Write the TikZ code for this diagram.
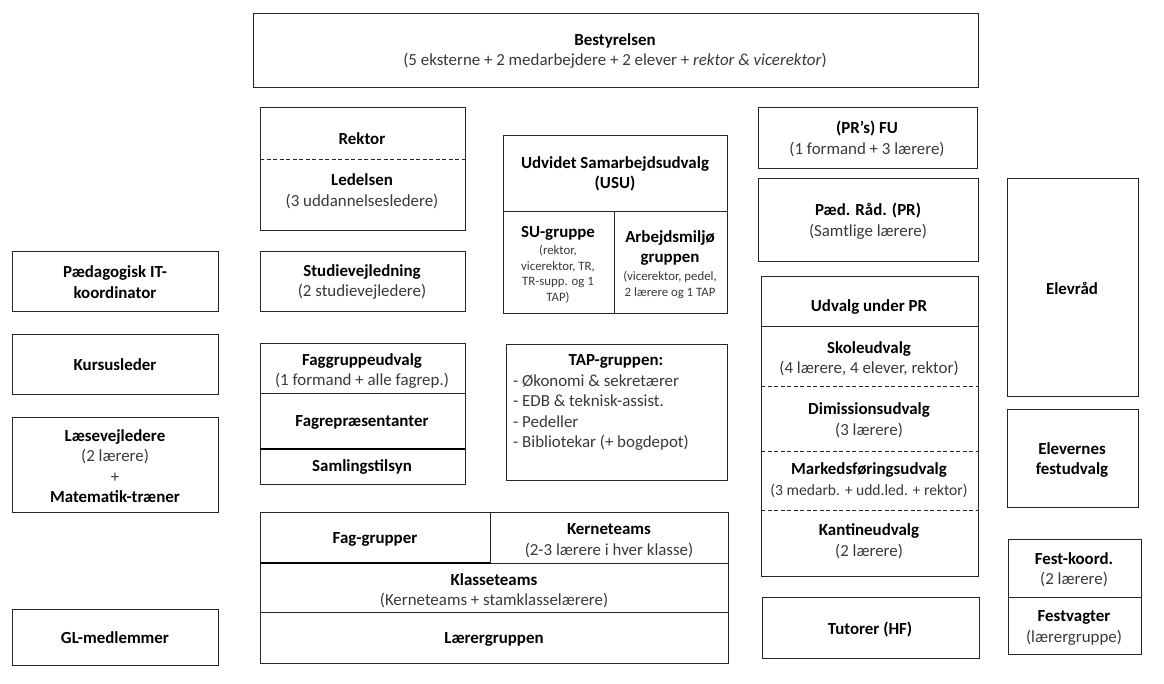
\documentclass[tikz,border=0pt]{standalone}
\usepackage{fontspec}
\setmainfont{Carlito}
\begin{document}
\begin{tikzpicture}[x=1pt,y=-1pt]
\tikzset{
 box/.style={draw=black!85, line width=0.9pt, inner sep=0pt},
 sep/.style={draw=black!85, line width=0.9pt},
 thick sep/.style={draw=black, line width=1.8pt},
 dsep/.style={draw=black!85, line width=0.9pt, dash pattern=on 4pt off 2.5pt},
 txt/.style={align=center, inner sep=0pt, text=black!78, font=\fontsize{16.9}{20.5}\selectfont},
 small/.style={align=center, inner sep=0pt, text=black!78, font=\fontsize{12.8}{15.5}\selectfont},
 mid/.style={align=center, inner sep=0pt, text=black!78, font=\fontsize{15.6}{18}\selectfont},
}
\newcommand\hdr[1]{{\color{black}\bfseries #1}}
\newcommand\bx[5]{\node[box, minimum width={(#4-#2)*1pt}, minimum height={(#5-#3)*1pt}] (#1) at ({(#2+#4)/2},{(#3+#5)/2}) {};}
\useasboundingbox (0,0) rectangle (1164,683);
% boxes
\bx{best}{253}{13}{978}{87}
\bx{rek}{260}{107}{465}{230}
\bx{stv}{260}{251}{465}{311}
\bx{fag}{260}{343}{465}{484}
\bx{usu}{503}{135}{727}{313}
\bx{tap}{506}{344}{727}{480}
\bx{lg}{260}{512}{728}{663}
\bx{fu}{758}{107}{977}{168}
\bx{pr}{758}{178}{978}{261}
\bx{upr}{761}{276}{978}{576}
\bx{tut}{762}{597}{979}{658}
\bx{elr}{1007}{178}{1138}{396}
\bx{efu}{1007}{409}{1138}{507}
\bx{fk}{1008}{539}{1141}{654}
\bx{pit}{12}{251}{218}{311}
\bx{kl}{12}{334}{218}{394}
\bx{lv}{12}{417}{218}{512}
\bx{gl}{12}{609}{218}{665}
% dividers
\draw[dsep] (260,159) -- (465,159);
\draw[sep] (260,393) -- (465,393);
\draw[thick sep] (260,449) -- (465,449);
\draw[sep] (503,211) -- (727,211);
\draw[sep] (614,211) -- (614,313);
\draw[thick sep] (260,563) -- (490,563);
\draw[sep] (490,563) -- (728,563);
\draw[sep] (490,512) -- (490,563);
\draw[sep] (260,612) -- (728,612);
\draw[sep] (761,326) -- (978,326);
\draw[dsep] (761,386) -- (978,386);
\draw[dsep] (761,451) -- (978,451);
\draw[dsep] (761,510) -- (978,510);
\draw[sep] (1008,597) -- (1141,597);
% texts
\node[txt] (t1) at (615,51) {\hdr{Bestyrelsen}\\(5 eksterne + 2 medarbejdere + 2 elever + \textit{rektor \& vicerektor})};
\node[txt] (t2) at (362,139) {\hdr{Rektor}};
\node[txt] (t3) at (362,191) {\hdr{Ledelsen}\\(3 uddannelsesledere)};
\node[txt] (t4) at (362,282) {\hdr{Studievejledning}\\(2 studievejledere)};
\node[txt] (t5) at (615,174) {\hdr{Udvidet Samarbejdsudvalg}\\\hdr{(USU)}};
\node[txt] (t6) at (558,233) {\hdr{SU-gruppe}};
\node[small] (t7) at (558,274) {(rektor,\\vicerektor, TR,\\TR-supp. og 1\\TAP)};
\node[txt] (t8) at (670,248) {\hdr{Arbejdsmiljø}\\\hdr{gruppen}};
\node[small] (t9) at (670,285) {(vicerektor, pedel,\\2 lærere og 1 TAP};
\node[txt] (t10) at (115,282) {\hdr{Pædagogisk IT-}\\\hdr{koordinator}};
\node[txt] (t11) at (115,365) {\hdr{Kursusleder}};
\node[txt] (t12) at (115,466) {\hdr{Læsevejledere}\\(2 lærere)\\+\\\hdr{Matematik-træner}};
\node[txt] (t13) at (362,371) {\hdr{Faggruppeudvalg}\\(1 formand + alle fagrep.)};
\node[txt] (t14) at (362,422) {\hdr{Fagrepræsentanter}};
\node[txt] (t15) at (362,467) {\hdr{Samlingstilsyn}};
\node[txt] (t16) at (616,361) {\hdr{TAP-gruppen:}};
\node[txt, align=left, anchor=west] (t17) at (513,412.5) {- Økonomi \& sekretærer\\- EDB \& teknisk-assist.\\- Pedeller\\- Bibliotekar (+ bogdepot)};
\node[txt] (t18) at (375,539) {\hdr{Fag-grupper}};
\node[txt] (t19) at (609,540.5) {\hdr{Kerneteams}\\(2-3 lærere i hver klasse)};
\node[txt] (t20) at (494,590.5) {\hdr{Klasseteams}\\(Kerneteams + stamklasselærere)};
\node[txt] (t21) at (494,639) {\hdr{Lærergruppen}};
\node[txt] (t22) at (115,638) {\hdr{GL-medlemmer}};
\node[txt] (t23) at (867,139) {\hdr{(PR’s) FU}\\(1 formand + 3 lærere)};
\node[txt] (t24) at (868,221) {\hdr{Pæd. Råd. (PR)}\\(Samtlige lærere)};
\node[txt] (t25) at (869,307) {\hdr{Udvalg under PR}};
\node[txt] (t26) at (869,358.5) {\hdr{Skoleudvalg}\\(4 lærere, 4 elever, rektor)};
\node[txt] (t27) at (869,420) {\hdr{Dimissionsudvalg}\\(3 lærere)};
\node[txt] (t28) at (869,470) {\hdr{Markedsføringsudvalg}};
\node[mid] (t29) at (869,491) {(3 medarb. + udd.led. + rektor)};
\node[txt] (t30) at (869,541) {\hdr{Kantineudvalg}\\(2 lærere)};
\node[txt] (t31) at (870,629) {\hdr{Tutorer (HF)}};
\node[txt] (t32) at (1072,288) {\hdr{Elevråd}};
\node[txt] (t33) at (1072,460) {\hdr{Elevernes}\\\hdr{festudvalg}};
\node[txt] (t34) at (1074,569.5) {\hdr{Fest-koord.}\\(2 lærere)};
\node[txt] (t35) at (1074,628) {\hdr{Festvagter}\\(lærergruppe)};
\end{tikzpicture}
\end{document}
